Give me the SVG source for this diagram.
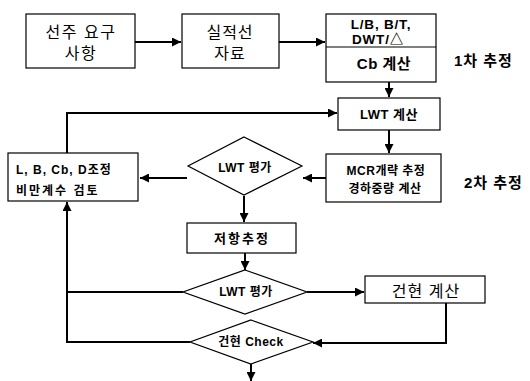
<svg xmlns="http://www.w3.org/2000/svg" width="530" height="381" viewBox="0 0 530 381">
<defs>
<marker id="ah" viewBox="0 0 10 10" refX="10" refY="5" markerWidth="9" markerHeight="9" markerUnits="userSpaceOnUse" orient="auto">
<path d="M0,0 L10,5 L0,10 z" fill="#000"/>
</marker>
<style>
.box{fill:#fff;stroke:#000;stroke-width:1.2}
.t{font-family:"Liberation Sans","Noto Sans CJK KR",sans-serif;fill:#000;text-anchor:middle;dominant-baseline:central}
.s{text-anchor:start}
.b{font-weight:bold}
.c{fill:none;stroke:#000;stroke-width:2}
.a{marker-end:url(#ah)}
</style>
</defs>
<rect width="530" height="381" fill="#fff"/>
<g id="connectors">
<path class="c a" d="M135,42 H181"/>
<path class="c a" d="M279,42 H325"/>
<path class="c a" d="M389,82 V97"/>
<path class="c a" d="M389,130 V153"/>
<path class="c a" d="M67,153 V113 H337"/>
<path class="c a" d="M326,178 H303"/>
<path class="c a" d="M187,178 H140"/>
<path class="c a" d="M244,196 V222"/>
<path class="c a" d="M245,253 V270"/>
<path class="c" d="M183,292 H67"/>
<path class="c a" d="M190,342 H67 V202"/>
<path class="c a" d="M307,292 H364"/>
<path class="c a" d="M446,303 V343 H313"/>
<path class="c a" d="M251,364 V381"/>
</g>
<g id="n1">
<rect class="box" x="26" y="14" width="109" height="54"/>
<text class="t" x="81" y="32" font-size="16" letter-spacing="1.5">선주 요구</text>
<text class="t" x="81" y="53" font-size="16" letter-spacing="1.5">사항</text>
</g>
<g id="n2">
<rect class="box" x="182" y="14" width="97" height="54"/>
<text class="t" x="230" y="32" font-size="16" letter-spacing="1">실적선</text>
<text class="t" x="230" y="53" font-size="16" letter-spacing="1">자료</text>
</g>
<g id="n3">
<rect class="box" x="326" y="14" width="110" height="68"/>
<line x1="326" y1="47" x2="436" y2="47" stroke="#000" stroke-width="1.2"/>
<text class="t b" x="381" y="24" font-size="13.5" letter-spacing="0.8">L/B, B/T,</text>
<text class="t b" x="378" y="39.5" font-size="13.5" letter-spacing="0.8">DWT/△</text>
<text class="t b" x="384" y="63" font-size="15" letter-spacing="0.5">Cb 계산</text>
</g>
<g id="label1">
<text class="t b s" x="454" y="60" font-size="15" letter-spacing="1">1차 추정</text>
</g>
<g id="n4">
<rect class="box" x="338" y="98" width="102" height="32"/>
<text class="t b" x="389" y="114" font-size="13" letter-spacing="0.5">LWT 계산</text>
</g>
<g id="n5">
<rect class="box" x="326" y="154" width="115" height="48"/>
<text class="t b" x="386" y="171" font-size="12" letter-spacing="0.5">MCR개략 추정</text>
<text class="t b" x="385" y="189" font-size="12" letter-spacing="0.5">경하중량 계산</text>
</g>
<g id="label2">
<text class="t b s" x="464" y="182" font-size="15" letter-spacing="1">2차 추정</text>
</g>
<g id="n6">
<rect class="box" x="8" y="153" width="130" height="48"/>
<text class="t b s" x="16" y="170" font-size="12" letter-spacing="1">L, B, Cb, D조정</text>
<text class="t b s" x="16" y="191" font-size="12" letter-spacing="2">비만계수 검토</text>
</g>
<g id="d1">
<polygon class="box" points="244,137 302,166 244,195 188,166"/>
<text class="t b" x="245" y="168" font-size="12" letter-spacing="0.5">LWT 평가</text>
</g>
<g id="n7">
<rect class="box" x="187" y="223" width="109" height="30"/>
<text class="t b" x="242" y="238" font-size="13" letter-spacing="2">저항추정</text>
</g>
<g id="d2">
<polygon class="box" points="245,270 307,292 245,314 183,292"/>
<text class="t b" x="246" y="292" font-size="12" letter-spacing="0.5">LWT 평가</text>
</g>
<g id="n8">
<rect class="box" x="365" y="276" width="120" height="27"/>
<text class="t" x="426" y="291" font-size="16" letter-spacing="1">건현 계산</text>
</g>
<g id="d3">
<polygon class="box" points="251,320 313,342 251,364 190,342"/>
<text class="t b" x="251" y="342" font-size="12" letter-spacing="0.5">건현 Check</text>
</g>
</svg>
